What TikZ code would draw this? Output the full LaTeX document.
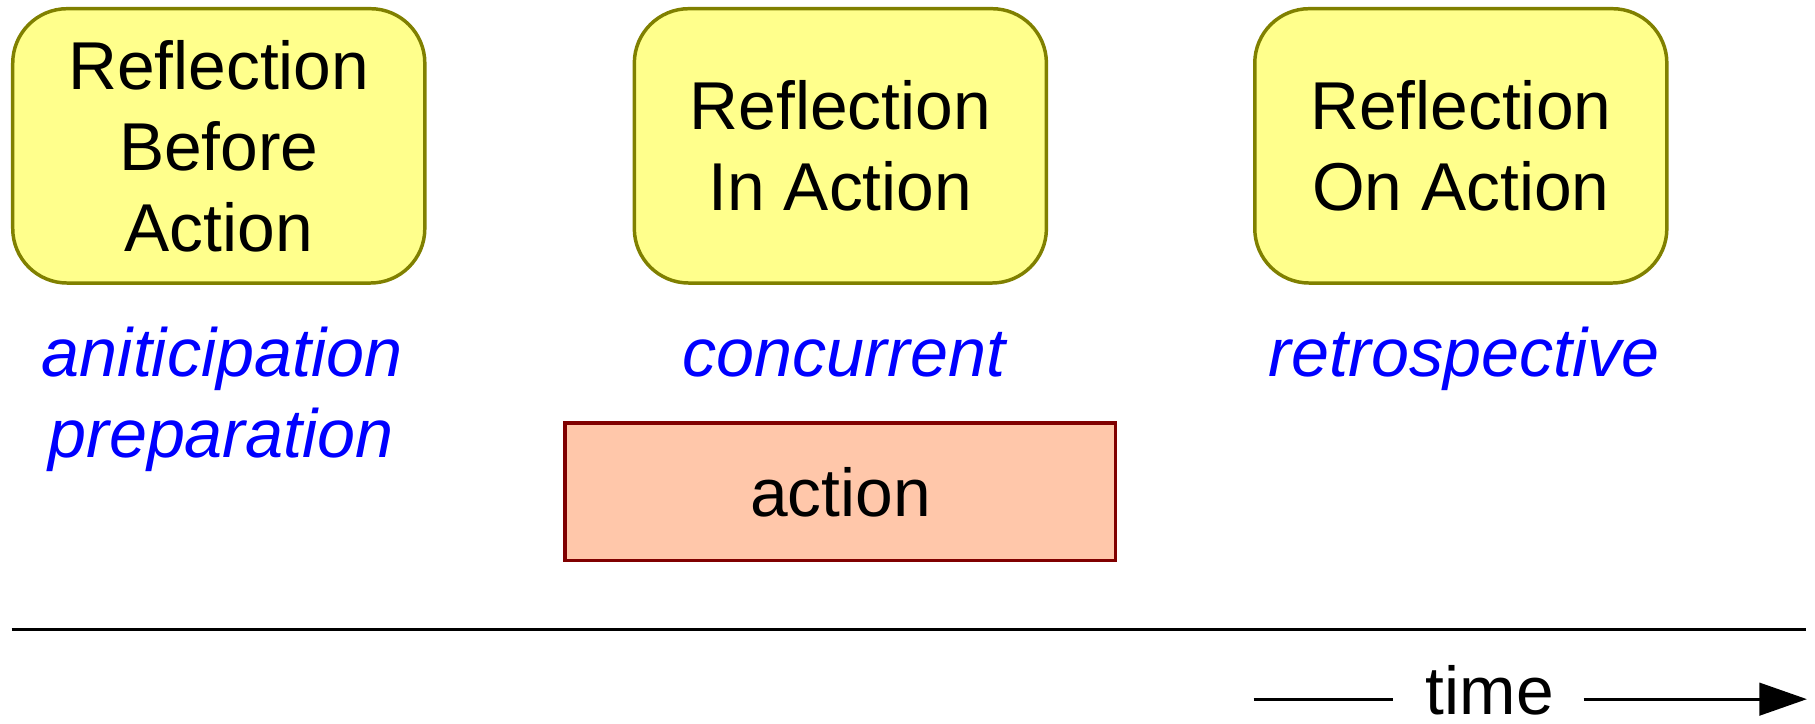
\documentclass[tikz,border=0pt]{standalone}
\usepackage{fontspec}
\setmainfont{Liberation Sans}
\usetikzlibrary{arrows.meta}
\definecolor{boxyellow}{HTML}{FFFF8C}
\definecolor{boxolive}{HTML}{808000}
\definecolor{actfill}{HTML}{FFC7AA}
\definecolor{actborder}{HTML}{800000}
\definecolor{lblblue}{HTML}{0000FF}
\begin{document}
\begin{tikzpicture}[x=1pt,y=-1pt,
  refl/.style={draw=boxolive, fill=boxyellow, line width=3pt, rounded corners=47pt,
    minimum width=356pt, minimum height=237pt, inner sep=0pt, align=center,
    font=\fontsize{58.5}{70}\selectfont},
  lbl/.style={text=lblblue, font=\fontsize{59}{70}\selectfont\itshape, anchor=base, inner sep=0pt},
  actbox/.style={draw=actborder, fill=actfill, line width=2.8pt,
    minimum width=476pt, minimum height=119pt, inner sep=0pt,
    font=\fontsize{58.5}{70}\selectfont},
  plain/.style={font=\fontsize{58.5}{70}\selectfont, anchor=base, inner sep=0pt},
  rule/.style={line width=2.6pt, black}
]
\useasboundingbox (0,0) rectangle (1568,625);

\node[refl] (rba) at (189,126) {Reflection\\Before\\Action};
\node[refl] (ria) at (726,126) {Reflection\\In Action};
\node[refl] (roa) at (1262,126) {Reflection\\On Action};

\node[lbl] (ant) at (192,325) {aniticipation};
\node[lbl] (prep) at (191,395) {preparation};
\node[lbl] (conc) at (729,325) {concurrent};
\node[lbl] (retro) at (1265,325) {retrospective};

\node[actbox] (act) at (726,425) {action};

\coordinate (tl0) at (10,544);
\coordinate (tl1) at (1560,544);
\draw[rule] (tl0) -- (tl1);

\node[plain] (time) at (1287,617) {time};
\coordinate (t0) at (1083,604);
\coordinate (t1) at (1203,604);
\coordinate (t2) at (1368,604);
\coordinate (t3) at (1561,604);
\draw[rule] (t0) -- (t1);
\draw[rule, -{Triangle[length=41pt,width=28pt]}] (t2) -- (t3);
\end{tikzpicture}
\end{document}
